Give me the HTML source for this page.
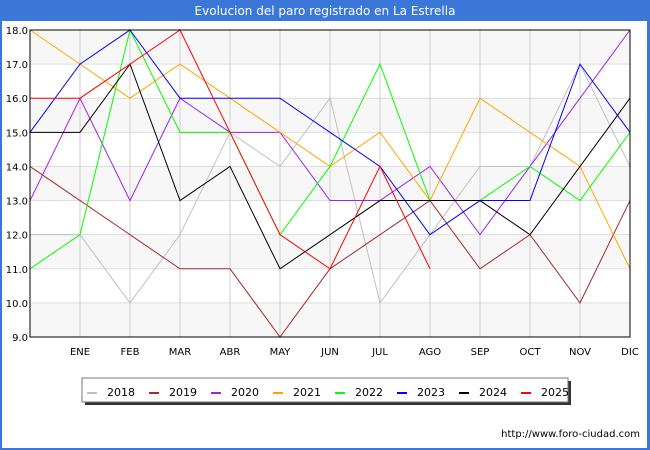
<!DOCTYPE html>
<html><head><meta charset="utf-8"><style>
body{margin:0;background:#fff;font-family:"DejaVu Sans","Liberation Sans",sans-serif}
#wrap{position:relative;width:650px;height:450px;overflow:hidden}
svg text{font-family:"DejaVu Sans","Liberation Sans",sans-serif}
</style></head><body>
<div id="wrap">
<svg id="chart" width="650" height="450" xmlns="http://www.w3.org/2000/svg">
<rect x="0" y="0" width="650" height="450" fill="#fff"/>
<rect x="0" y="0" width="650" height="21" fill="#3a77d8"/>
<rect x="647" y="21" width="3" height="429" fill="#3a77d8"/>
<rect x="0" y="21" width="2" height="429" fill="#3a77d8"/>
<rect x="0" y="448" width="650" height="2" fill="#3a77d8"/>
<text x="325" y="15" text-anchor="middle" font-size="12" fill="#fff">Evolucion del paro registrado en La Estrella</text>
<g id="grid"></g>
<g id="series"></g>
<rect x="30" y="30" width="600" height="307" fill="none" stroke="#000" stroke-width="1"/>
<g id="axes"></g>
<g id="legend"></g>
<text x="640" y="437" text-anchor="end" font-size="10" fill="#000">http://www.foro-ciudad.com</text>
</svg>
</div>
<script>
const categories=["","ENE","FEB","MAR","ABR","MAY","JUN","JUL","AGO","SEP","OCT","NOV","DIC"];
const yTicks=[9,10,11,12,13,14,15,16,17,18];
const seriesNames=["2018","2019","2020","2021","2022","2023","2024","2025"];
const seriesColors=["#c0c0c0","#a52a2a","#a020f0","#ffa500","#00ff00","#0000ff","#000000","#ff0000"];
const s2018=[12,12,10,12,15,14,16,10,12,14,14,17,14];
const s2019=[14,13,12,11,11,9,11,12,13,11,12,10,13];
const s2020=[13,16,13,16,15,15,13,13,14,12,14,16,18];
const s2021=[18,17,16,17,16,15,14,15,13,16,15,14,11];
const s2022=[11,12,18,15,15,12,14,17,13,13,14,13,15];
const s2023=[15,17,18,16,16,16,15,14,12,13,13,17,15];
const s2024=[15,15,17,13,14,11,12,13,13,13,12,14,16];
const s2025=[16,16,17,18,15,12,11,14,11];
const allSeries=[s2018,s2019,s2020,s2021,s2022,s2023,s2024,s2025];
const NS="http://www.w3.org/2000/svg";
const X0=30,X1=630,Y0=337,Y1=30,YMIN=9,YMAX=18;
function xs(i){return X0+i*(X1-X0)/(categories.length-1);}
function ys(v){return Y0-(v-YMIN)*(Y0-Y1)/(YMAX-YMIN);}
function mk(tag,attrs){const e=document.createElementNS(NS,tag);for(const k in attrs)e.setAttribute(k,attrs[k]);return e;}
const grid=document.getElementById('grid'),axes=document.getElementById('axes');
for(let i=0;i<yTicks.length-1;i++){
  if(i%2===0){const b=mk('rect',{x:X0,y:ys(yTicks[i+1]),width:X1-X0,height:ys(yTicks[i])-ys(yTicks[i+1]),fill:'#f7f7f7'});
  
  
  grid.appendChild(b);}
}
yTicks.forEach(v=>{
  const l=mk('line',{x1:X0,x2:X1,y1:ys(v),y2:ys(v),stroke:'#ddd','stroke-width':1});
  
  
  grid.appendChild(l);
  const t=mk('text',{x:X0-2,y:ys(v)+4,'text-anchor':'end','font-size':10,fill:'#000'});
  t.textContent=v.toFixed(1);
  
  
  axes.appendChild(t);
});
categories.forEach((c,i)=>{
  if(i===0)return;
  const l=mk('line',{x1:xs(i),x2:xs(i),y1:Y1,y2:Y0,stroke:'#ccc','stroke-width':1});
  
  
  grid.appendChild(l);
  const t=mk('text',{x:xs(i),y:355,'text-anchor':'middle','font-size':10,fill:'#000'});
  t.textContent=c;
  
  
  axes.appendChild(t);
});
const sg=document.getElementById('series');
allSeries.forEach((s,k)=>{
  const p=mk('polyline',{points:s.map((v,i)=>xs(i)+','+ys(v)).join(' '),fill:'none',stroke:seriesColors[k],'stroke-width':1});
  
  
  sg.appendChild(p);
});
const lg=document.getElementById('legend');
const sh=mk('rect',{x:85,y:381,width:486,height:24,fill:'#333'});


lg.appendChild(sh);
const box=mk('rect',{x:82,y:378,width:486,height:24,fill:'#fff',stroke:'#777','stroke-width':1});


lg.appendChild(box);
seriesNames.forEach((n,k)=>{
  const g=mk('g',{});
  
  
  const sw=mk('rect',{x:87+k*62,y:392,width:10,height:2,fill:seriesColors[k]});
  
  
  const t=mk('text',{x:107+k*62,y:396,'font-size':11,fill:'#000'});
  t.textContent=n;
  
  
  g.appendChild(sw);g.appendChild(t);lg.appendChild(g);
});
</script>
</body></html>
